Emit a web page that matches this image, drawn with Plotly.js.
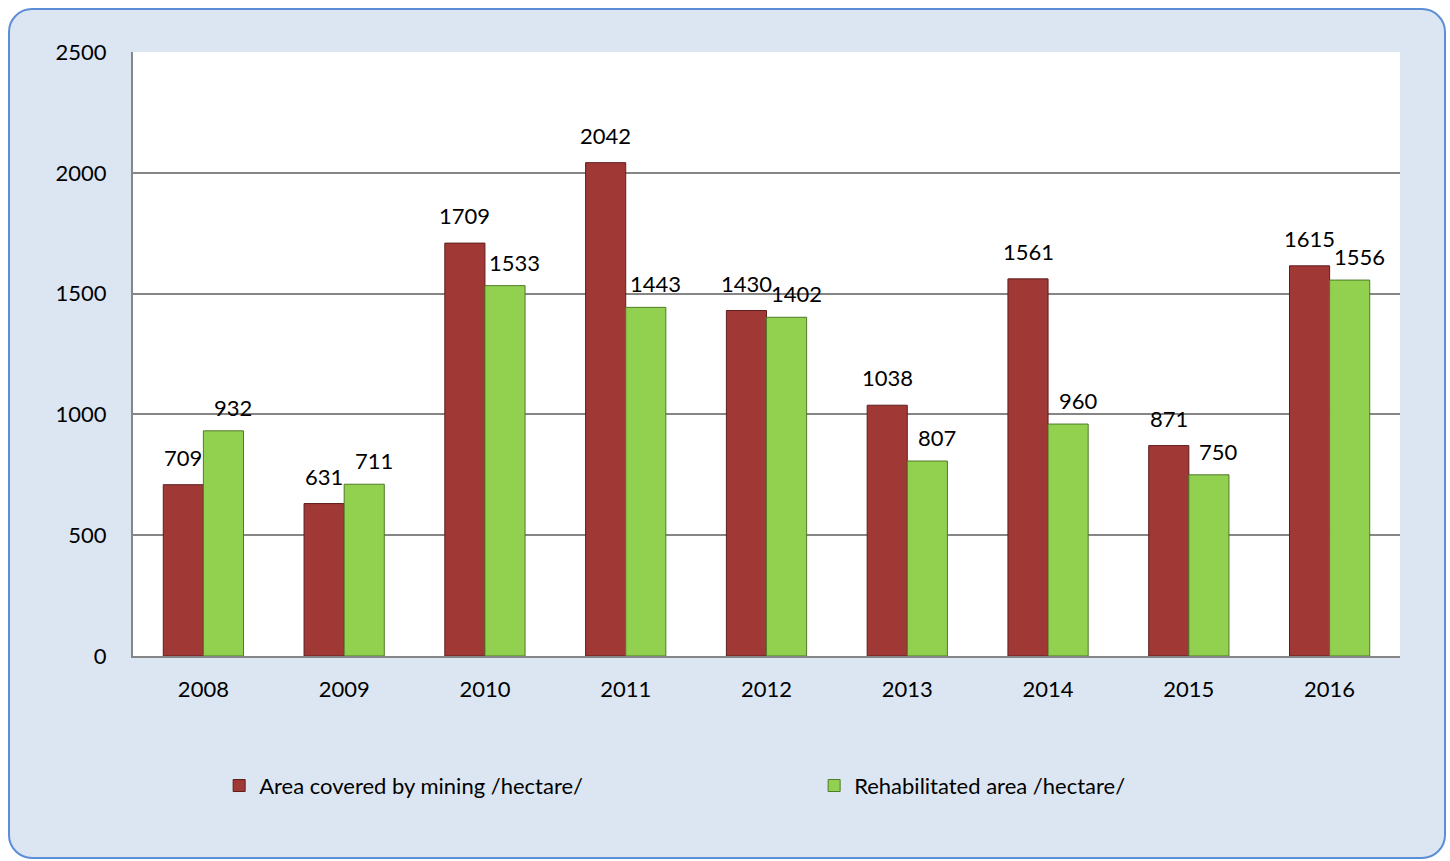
<!DOCTYPE html>
<html>
<head>
<meta charset="utf-8">
<script src="https://cdn.plot.ly/plotly-3.0.1.min.js"></script>
<style>
  html, body { margin: 0; padding: 0; background: #ffffff; }
  #frame {
    position: absolute; left: 8px; top: 8px; width: 1438px; height: 851px;
    background: #dce6f2; border: 2px solid #5b8ed6; border-radius: 24px;
    box-sizing: border-box;
  }
  #chart { position: absolute; left: 0; top: 0; width: 1450px; height: 861px; }
</style>
</head>
<body>
<div id="frame"></div>
<div id="chart"></div>
<script>
// data
var years = ["2008", "2009", "2010", "2011", "2012", "2013", "2014", "2015", "2016"];
var mining = [709, 631, 1709, 2042, 1430, 1038, 1561, 871, 1615];
var rehab = [932, 711, 1533, 1443, 1402, 807, 960, 750, 1556];

var font = "Lato, 'Liberation Sans', sans-serif";
var fsize = 22;

var traceMining = {
    x: years, y: mining, type: "bar",
    name: "Area covered by mining /hectare/",
    marker: {color: "#a03836", line: {color: "#5e1e1d", width: 1}},
    legend: "legend",
    hoverinfo: "y"
};
var traceRehab = {
    x: years, y: rehab, type: "bar",
    name: "Rehabilitated area /hectare/",
    marker: {color: "#92d050", line: {color: "#4f7a28", width: 1}},
    legend: "legend2",
    hoverinfo: "y"
};

// value labels above each bar
var annotations = [];
years.forEach(function (yr, i) {
    annotations.push({x: i - 0.142, y: mining[i], xref: "x", yref: "y", text: String(mining[i]),
        showarrow: false, yanchor: "bottom", yshift: 12, font: {family: font, size: fsize, color: "#000"}});
    annotations.push({x: i + 0.142, y: rehab[i], xref: "x", yref: "y", text: String(rehab[i]),
        showarrow: false, yanchor: "bottom", xshift: 10, yshift: 8, font: {family: font, size: fsize, color: "#000"}});
});

var legendBase = {
    orientation: "h", xanchor: "left", y: -0.18, yanchor: "top",
    font: {family: font, size: fsize}, bgcolor: "rgba(0,0,0,0)"
};

var layout = {
    width: 1450, height: 861,
    margin: {l: 133, r: 50, t: 52, b: 205},
    paper_bgcolor: "rgba(0,0,0,0)",
    plot_bgcolor: "#ffffff",
    barmode: "group",
    bargap: 0.43,
    bargroupgap: 0,
    font: {family: font, size: fsize, color: "#000"},
    xaxis: {
        type: "category",
        showline: true, linecolor: "#868686", linewidth: 2,
        ticks: "", ticklabelstandoff: 13,
        tickfont: {family: font, size: fsize}
    },
    yaxis: {
        range: [0, 2500], dtick: 500,
        showline: true, linecolor: "#868686", linewidth: 2,
        gridcolor: "#868686", gridwidth: 2,
        zeroline: false, ticks: "", ticklabelstandoff: 20,
        tickfont: {family: font, size: fsize}
    },
    legend: Object.assign({}, legendBase, {x: 0.068}),
    legend2: Object.assign({}, legendBase, {x: 0.5376}),
    annotations: annotations,
    showlegend: true
};

Plotly.newPlot("chart", [traceMining, traceRehab], layout, {displayModeBar: false});
</script>
</body>
</html>
